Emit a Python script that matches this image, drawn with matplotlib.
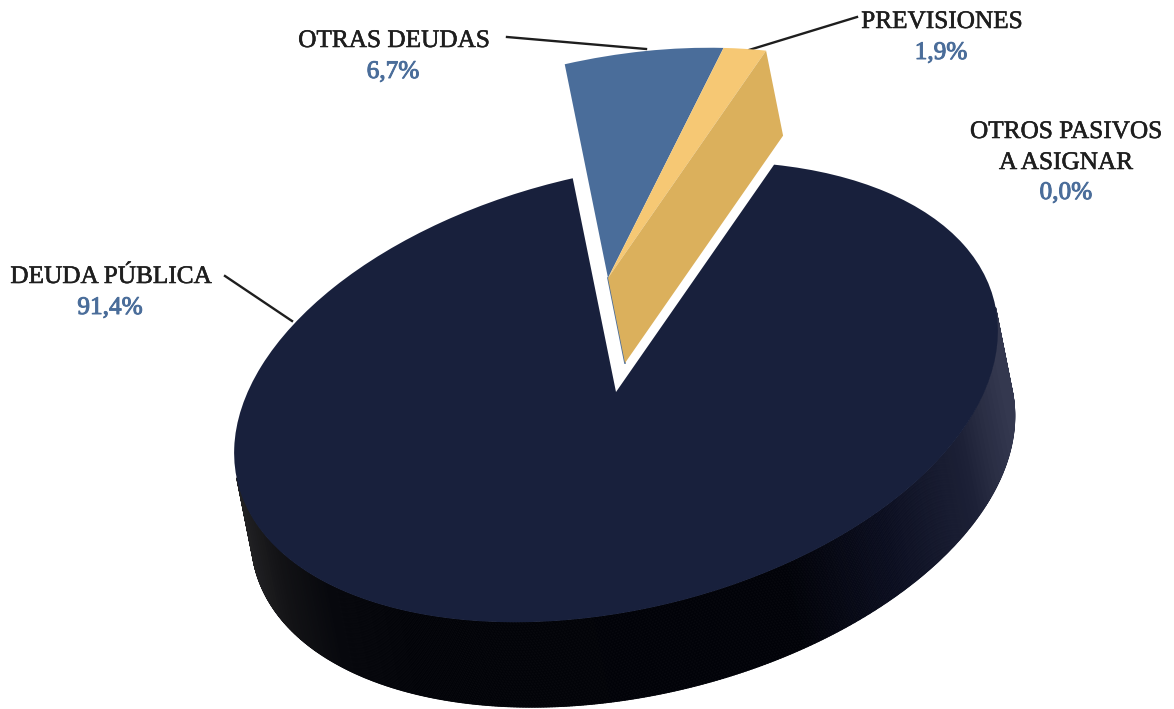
import numpy as np
import matplotlib
matplotlib.use('Agg')
import matplotlib.pyplot as plt
import matplotlib.patheffects as pe
from matplotlib.collections import PolyCollection
from matplotlib.colors import LinearSegmentedColormap
from matplotlib.patches import Polygon
from matplotlib.transforms import Affine2D

names = ['DEUDA PÚBLICA', 'OTRAS DEUDAS', 'PREVISIONES', 'OTROS PASIVOS\nA ASIGNAR']
shares = [91.4, 6.7, 1.9, 0.0]
share_labels = ['91,4%', '6,7%', '1,9%', '0,0%']

NAVY = '#18203C'
BLUE = '#4A6D9A'
YELLOW = '#F6C874'
YELLOW_SIDE = '#DBB05C'
TEXT = '#1E1E1E'

plt.rcParams['font.family'] = ['Liberation Serif', 'DejaVu Serif']

fig = plt.figure(figsize=(11.74, 7.09), dpi=100)
ax = fig.add_axes([0, 0, 1, 1])
wedges, _ = ax.pie(shares, colors=[NAVY, BLUE, YELLOW, '#A5A5A5'], startangle=58,
                   counterclock=False, wedgeprops={'linewidth': 0})
ax.set_aspect('auto')
ax.set_xlim(0, 1174)
ax.set_ylim(709, 0)
ax.axis('off')

# unit pie -> tilted ellipse, axes run in pixels
top = Affine2D().scale(389, 218).rotate_deg(13.3).scale(1, -1).translate(616, 392)
pulled = top + Affine2D().translate(-8, -114)
depth = np.array([17, 85])

for i, w in enumerate(wedges):
    w.set_transform((top if i == 0 else pulled) + ax.transData)
    w.set_zorder(3)

# outer wall of the big slice, only the part facing the viewer
lin = top.get_matrix()[:2, :2]
facing = np.linalg.solve(lin, depth)
phi = np.radians(np.linspace(wedges[0].theta1, wedges[0].theta2, 1400))
unit = np.c_[np.cos(phi), np.sin(phi)]
unit = unit[unit @ facing > 0]
order = np.argsort(np.arctan2(unit[:, 1], unit[:, 0]) % (2 * np.pi))
rim = top.transform(unit[order])

wall_cmap = LinearSegmentedColormap.from_list('wall', [
    (0.00, '#222224'), (0.05, '#131316'), (0.12, '#07080D'), (0.22, '#020308'),
    (0.72, '#010208'), (0.85, '#0B0E20'), (0.95, '#1C2036'), (1.00, '#34384F')])
quads = [[rim[j], rim[j + 1], rim[j + 1] + depth, rim[j] + depth] for j in range(len(rim) - 1)]
mid_x = np.array([q[0][0] + depth[0] / 2 for q in quads])
shade = wall_cmap((mid_x - mid_x.min()) / (mid_x.max() - mid_x.min()))
ax.add_collection(PolyCollection(quads, facecolors=shade, edgecolors=shade, linewidths=0.6, zorder=2))

# cut faces of the pulled slices
corner = np.radians(wedges[2].theta1)
apex, edge = pulled.transform([(0, 0), (np.cos(corner), np.sin(corner))])
ax.add_patch(Polygon([apex, edge, edge + depth, apex + depth], facecolor=YELLOW_SIDE, edgecolor='none', zorder=4))
ax.plot([apex[0], apex[0] + depth[0]], [apex[1], apex[1] + depth[1]], color=BLUE, lw=1.2, zorder=3.5)

# leader lines
ax.plot([225, 292], [276, 321], color=TEXT, lw=1.7, zorder=5)
ax.plot([507, 646], [37, 49], color=TEXT, lw=1.7, zorder=2.5)
ax.plot([749, 857], [50, 17], color=TEXT, lw=1.7, zorder=2.5)

FS = 18.2
name_fx = [pe.withStroke(linewidth=0.4, foreground=TEXT)]
pct_fx = [pe.withStroke(linewidth=0.7, foreground=BLUE)]


def put_name(x, y, s):
    ax.text(x, y, s, ha='center', va='baseline', fontsize=FS, color=TEXT, path_effects=name_fx)


def put_share(x, y, s):
    ax.text(x, y, s, ha='center', va='baseline', fontsize=FS, color=BLUE, path_effects=pct_fx)


put_name(111, 283, names[0])
put_share(110, 314, share_labels[0])
put_name(394, 47, names[1])
put_share(393, 78, share_labels[1])
put_name(942, 28, names[2])
put_share(941, 59, share_labels[2])
first, second = names[3].split('\n')
put_name(1066, 138, first)
put_name(1066, 169, second)
put_share(1066, 199, share_labels[3])

fig.savefig('out.png', dpi=100)
